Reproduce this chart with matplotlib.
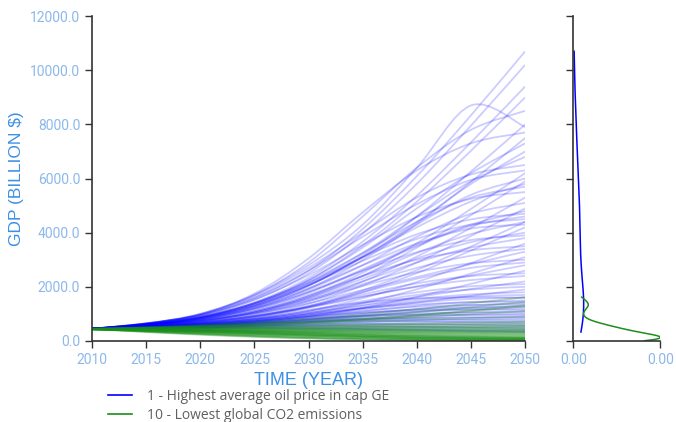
import numpy as np
import matplotlib
matplotlib.use("Agg")
import matplotlib.pyplot as plt
from matplotlib.lines import Line2D
from matplotlib.path import Path
from matplotlib.patches import PathPatch

plt.rcParams["font.family"] = ["Roboto", "DejaVu Sans"]

years = [2010, 2015, 2020, 2025, 2030, 2035, 2040, 2045, 2050]

# GDP trajectories (billion $) for scenario 1 - highest average oil price
gdp_high_oil = [
    [450, 655, 960, 1580, 2600, 4140, 6090, 8340, 10700],
    [450, 645, 940, 1520, 2500, 3960, 5810, 7960, 10200],
    [450, 640, 1000, 1700, 2800, 4300, 6400, 8700, 7900],
    [450, 630, 900, 1430, 2330, 3670, 5370, 7340, 9400],
    [450, 620, 880, 1390, 2250, 3530, 5150, 7030, 9000],
    [450, 640, 1000, 1700, 2900, 4600, 6400, 7800, 8500],
    [450, 600, 830, 1280, 2040, 3170, 4600, 6260, 8000],
    [450, 650, 980, 1750, 3050, 4750, 6300, 7300, 7700],
    [450, 590, 800, 1220, 1930, 2990, 4330, 5880, 7500],
    [450, 610, 880, 1400, 2250, 3450, 4900, 6200, 7300],
    [450, 600, 850, 1350, 2150, 3250, 4600, 5900, 6800],
    [450, 640, 980, 1650, 2700, 4000, 5300, 6150, 6500],
    [450, 565, 740, 1080, 1660, 2520, 3610, 4880, 6200],
    [450, 600, 850, 1300, 2050, 3100, 4300, 5400, 6000],
    [450, 560, 720, 1050, 1600, 2410, 3450, 4650, 5900],
    [450, 620, 900, 1400, 2200, 3250, 4400, 5300, 5700],
    [450, 630, 940, 1530, 2430, 3550, 4580, 5250, 5500],
    [450, 550, 690, 980, 1470, 2200, 3120, 4180, 5300],
    [450, 590, 820, 1250, 1900, 2800, 3850, 4700, 5100],
    [450, 540, 670, 940, 1380, 2050, 2900, 3880, 4900],
    [450, 620, 880, 1390, 2150, 3090, 3940, 4490, 4700],
    [450, 580, 790, 1180, 1780, 2600, 3500, 4250, 4600],
    [450, 610, 860, 1340, 2070, 2960, 3770, 4300, 4500],
    [450, 530, 650, 880, 1280, 1870, 2620, 3490, 4400],
    [450, 570, 760, 1100, 1650, 2400, 3250, 3950, 4400],
    [450, 600, 830, 1280, 1950, 2800, 3600, 4150, 4300],
    [450, 525, 640, 860, 1240, 1800, 2510, 3340, 4200],
    [450, 590, 800, 1210, 1830, 2590, 3280, 3730, 3900],
    [450, 560, 740, 1050, 1550, 2200, 2900, 3450, 3800],
    [450, 515, 610, 800, 1110, 1580, 2180, 2880, 3600],
    [450, 580, 780, 1150, 1700, 2400, 3000, 3350, 3500],
    [450, 560, 735, 1020, 1390, 1880, 2360, 2840, 3300],
    [450, 505, 580, 740, 1010, 1400, 1910, 2490, 3100],
    [450, 550, 710, 1010, 1470, 2030, 2540, 2870, 3000],
    [450, 540, 680, 920, 1300, 1800, 2300, 2700, 2900],
    [450, 545, 685, 920, 1230, 1630, 2020, 2420, 2800],
    [450, 495, 560, 690, 900, 1220, 1630, 2110, 2600],
    [450, 530, 660, 900, 1270, 1720, 2130, 2400, 2500],
    [450, 540, 680, 920, 1250, 1650, 2000, 2250, 2400],
    [450, 520, 625, 800, 1030, 1330, 1620, 1920, 2200],
    [450, 515, 620, 810, 1110, 1470, 1800, 2020, 2100],
    [450, 520, 630, 820, 1080, 1400, 1700, 1900, 2000],
    [450, 510, 595, 740, 930, 1180, 1420, 1670, 1900],
    [450, 520, 620, 790, 1030, 1300, 1550, 1720, 1800],
    [450, 500, 575, 725, 950, 1230, 1480, 1640, 1700],
    [450, 510, 600, 760, 980, 1220, 1420, 1550, 1600],
    [450, 520, 640, 850, 1150, 1420, 1570, 1610, 1600],
    [450, 500, 570, 700, 880, 1090, 1300, 1440, 1500],
    [450, 510, 600, 760, 980, 1200, 1350, 1430, 1450],
    [450, 495, 560, 670, 820, 1000, 1180, 1320, 1400],
    [450, 505, 590, 730, 920, 1120, 1260, 1330, 1350],
    [450, 490, 545, 640, 770, 930, 1090, 1220, 1300],
    [450, 500, 580, 700, 870, 1040, 1170, 1240, 1250],
    [450, 490, 550, 650, 790, 940, 1070, 1160, 1200],
    [450, 500, 580, 720, 900, 1050, 1130, 1160, 1150],
    [450, 485, 535, 620, 730, 860, 980, 1060, 1100],
    [450, 495, 560, 670, 800, 930, 1010, 1050, 1050],
    [450, 480, 525, 600, 700, 810, 910, 970, 1000],
    [450, 490, 560, 680, 820, 920, 960, 960, 950],
    [450, 480, 520, 590, 680, 770, 840, 880, 900],
    [450, 490, 550, 650, 760, 830, 860, 860, 850],
    [450, 475, 510, 570, 640, 710, 760, 790, 800],
    [450, 485, 540, 630, 730, 790, 800, 780, 750],
    [450, 475, 510, 560, 620, 670, 700, 710, 700],
    [450, 480, 530, 610, 700, 740, 730, 690, 650],
    [450, 470, 500, 540, 580, 610, 620, 615, 600],
    [450, 475, 510, 560, 610, 630, 620, 590, 560],
    [450, 465, 485, 510, 530, 540, 530, 515, 500],
    [450, 470, 500, 540, 560, 550, 520, 485, 450],
    [450, 460, 475, 490, 490, 475, 450, 425, 400],
    [450, 460, 470, 475, 465, 440, 410, 380, 350],
    [450, 455, 460, 455, 440, 415, 385, 355, 330],
    [450, 640, 960, 1600, 2600, 3850, 5050, 5950, 6300],
    [450, 610, 870, 1350, 2100, 3100, 4200, 5150, 5800],
    [450, 590, 800, 1200, 1800, 2650, 3550, 4300, 4800],
    [450, 600, 840, 1300, 2050, 3100, 4400, 5800, 7000],
    [450, 570, 760, 1100, 1600, 2300, 3050, 3650, 4000],
    [450, 560, 740, 1050, 1520, 2100, 2700, 3150, 3400],
]

# GDP trajectories (billion $) for scenario 10 - lowest global CO2 emissions
gdp_low_co2 = [
    [440, 330, 230, 150, 90, 50, 30, 15, 10],
    [450, 350, 260, 180, 115, 70, 40, 25, 15],
    [440, 340, 250, 170, 110, 70, 45, 30, 20],
    [430, 360, 280, 210, 150, 100, 65, 40, 30],
    [440, 360, 280, 210, 150, 100, 70, 50, 40],
    [430, 380, 320, 260, 200, 150, 100, 70, 50],
    [450, 400, 340, 280, 220, 160, 110, 80, 60],
    [440, 380, 320, 260, 200, 150, 110, 85, 70],
    [440, 390, 340, 290, 240, 190, 140, 100, 80],
    [430, 370, 300, 240, 190, 150, 120, 100, 90],
    [450, 410, 370, 320, 270, 220, 170, 130, 100],
    [440, 400, 350, 300, 250, 200, 160, 130, 110],
    [430, 390, 340, 290, 240, 200, 170, 140, 120],
    [450, 420, 380, 340, 290, 240, 200, 165, 140],
    [430, 410, 380, 340, 300, 260, 220, 185, 160],
    [450, 420, 380, 340, 300, 260, 230, 205, 190],
    [430, 410, 390, 360, 330, 300, 270, 240, 220],
    [450, 420, 390, 360, 330, 305, 285, 265, 250],
    [430, 415, 395, 370, 350, 330, 310, 295, 280],
    [450, 430, 410, 390, 370, 350, 330, 315, 300],
    [430, 420, 410, 395, 380, 365, 350, 340, 330],
    [450, 440, 425, 410, 395, 385, 375, 365, 360],
    [430, 425, 420, 415, 410, 405, 400, 395, 390],
    [440, 440, 435, 435, 430, 430, 425, 420, 420],
    [430, 435, 440, 445, 450, 455, 455, 460, 460],
    [450, 455, 460, 470, 475, 485, 490, 495, 500],
    [430, 445, 460, 475, 490, 505, 515, 530, 540],
    [450, 465, 480, 500, 520, 535, 555, 570, 580],
    [450, 470, 495, 520, 550, 575, 600, 625, 650],
    [440, 465, 495, 530, 570, 610, 645, 685, 720],
    [450, 480, 520, 575, 640, 710, 780, 840, 900],
    [440, 475, 525, 590, 670, 770, 880, 990, 1100],
    [450, 490, 545, 615, 700, 810, 940, 1100, 1280],
    [440, 480, 530, 600, 690, 800, 950, 1130, 1330],
    [450, 500, 565, 650, 760, 900, 1060, 1250, 1450],
    [450, 510, 590, 700, 830, 990, 1170, 1390, 1620],
]

series_labels = ["1 - Highest average oil price in cap GE",
                 "10 - Lowest global CO2 emissions"]
series_colors = ["#0000ff", "#1a8f1a"]
series_alpha = [0.2, 0.3]

tick_color = "#8cb8ea"
label_color = "#3d8fe6"
spine_color = "#333333"


def smooth_path(x, y):
    """Catmull-Rom curve through the points, as cubic bezier segments."""
    p = np.column_stack([x, y]).astype(float)
    ext = np.vstack([p[0], p, p[-1]])
    verts = [p[0]]
    codes = [Path.MOVETO]
    for i in range(len(p) - 1):
        c1 = ext[i + 1] + (ext[i + 2] - ext[i]) / 6
        c2 = ext[i + 2] - (ext[i + 3] - ext[i + 1]) / 6
        verts += [c1, c2, p[i + 1]]
        codes += [Path.CURVE4] * 3
    return Path(verts, codes)


def gaussian_kde(values, grid):
    """Gaussian KDE, Silverman's robust bandwidth."""
    values = np.asarray(values, dtype=float)
    q75, q25 = np.percentile(values, [75, 25])
    spread = min(values.std(ddof=1), (q75 - q25) / 1.34)
    bw = 0.9 * spread * len(values) ** (-1 / 5)
    z = (grid[:, None] - values[None, :]) / bw
    return np.exp(-0.5 * z ** 2).sum(axis=1) / (len(values) * bw * np.sqrt(2 * np.pi))


fig = plt.figure(figsize=(6.76, 4.22), dpi=100)
ax = fig.add_axes([0.136, 0.192, 0.641, 0.770])
ax_kde = fig.add_axes([0.848, 0.192, 0.129, 0.770], sharey=ax)

for group, color, alpha in zip([gdp_high_oil, gdp_low_co2], series_colors, series_alpha):
    for row in group:
        ax.add_patch(PathPatch(smooth_path(years, row), fill=False,
                               edgecolor=color, alpha=alpha, lw=1.3))

# density of the final year values
densities = []
for group, color in zip([gdp_high_oil, gdp_low_co2], series_colors):
    end_vals = np.array([row[-1] for row in group])
    grid = np.linspace(end_vals.min(), end_vals.max(), 200)
    dens = gaussian_kde(end_vals, grid)
    densities.append(dens.max())
    ax_kde.plot(dens, grid, color=color, lw=1.1)

dmax = max(densities)
ax_kde.set_xlim(0, dmax)
ax_kde.set_xticks([0, dmax])
ax_kde.set_xticklabels(["0.00", "0.00"])

ax.set_xlim(2010, 2050)
ax.set_ylim(0, 12000)
ax.set_xticks(range(2010, 2051, 5))
ax.set_yticks(range(0, 12001, 2000))
ax.set_yticklabels([f"{v:.1f}" for v in range(0, 12001, 2000)])
ax.set_xlabel("TIME (YEAR)", fontsize=13, color=label_color,
              family="Liberation Sans")
ax.set_ylabel("GDP (BILLION $)", fontsize=12.5, color=label_color,
              family="Liberation Sans", labelpad=4)
ax.xaxis.set_label_coords(0.5, -0.097)

for a in (ax, ax_kde):
    a.spines["top"].set_visible(False)
    a.spines["right"].set_visible(False)
    for s in ("left", "bottom"):
        a.spines[s].set_color(spine_color)
        a.spines[s].set_linewidth(1.2)
    a.tick_params(direction="out", length=5, width=1, color=spine_color,
                  labelcolor=tick_color, labelsize=10)
ax_kde.tick_params(axis="y", labelleft=False)

handles = [Line2D([], [], color=c, lw=1.2) for c in series_colors]
fig.legend(handles, series_labels, loc="upper left",
           bbox_to_anchor=(0.16, 0.078), frameon=False,
           prop={"family": "Open Sans", "size": 10},
           labelcolor="#606060", handlelength=1.7, handletextpad=1.1,
           labelspacing=0.3, borderpad=0, borderaxespad=0)

fig.savefig("out.png", dpi=100)
